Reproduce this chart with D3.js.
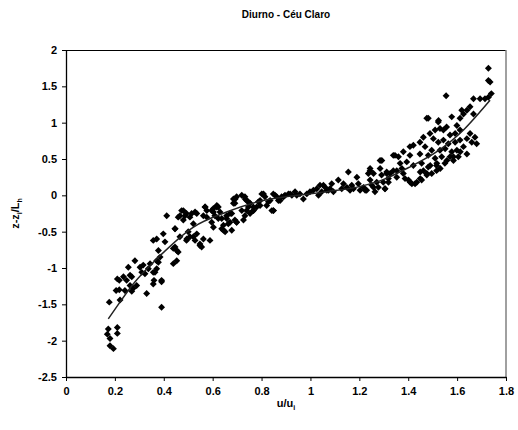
<!DOCTYPE html>
<html>
<head>
<meta charset="utf-8">
<script src="https://cdn.jsdelivr.net/npm/d3@7"></script>
<style>
  body { margin: 0; background: #fff; }
  text { font-family: "Liberation Sans", Arial, sans-serif; font-weight: bold; }
</style>
</head>
<body>
<div id="chart"></div>
<script>
// Data
const chartTitle = "Diurno - Céu Claro";
const xTicks = [0, 0.2, 0.4, 0.6, 0.8, 1, 1.2, 1.4, 1.6, 1.8];
const yTicks = [2, 1.5, 1, 0.5, 0, -0.5, -1, -1.5, -2, -2.5];

// scatter points
const pointsX = [
  0.177, 0.173, 0.169, 0.18, 0.18, 0.194, 0.21, 0.21, 0.221, 0.205, 0.218, 0.21, 0.218, 0.235, 0.241, 0.248,
  0.255, 0.262, 0.269, 0.262, 0.269, 0.282, 0.289, 0.275, 0.303, 0.31, 0.316, 0.323, 0.33, 0.337, 0.344, 0.357,
  0.364, 0.36, 0.371, 0.371, 0.371, 0.378, 0.385, 0.391, 0.391, 0.398, 0.405, 0.412, 0.439, 0.446, 0.453, 0.459,
  0.446, 0.459, 0.466, 0.473, 0.48, 0.487, 0.493, 0.5, 0.507, 0.514, 0.521, 0.528, 0.535, 0.535, 0.548, 0.555,
  0.562, 0.562, 0.576, 0.589, 0.596, 0.603, 0.603, 0.617, 0.623, 0.63, 0.637, 0.644, 0.651, 0.657, 0.664, 0.671,
  0.678, 0.685, 0.691, 0.698, 0.719, 0.726, 0.739, 0.746, 0.753, 0.766, 0.78, 0.794, 0.821, 0.835, 0.848, 0.869,
  0.466, 0.48, 0.493, 0.507, 0.528, 0.569, 0.576, 0.596, 0.617, 0.657, 0.685, 0.691, 0.698, 0.719, 0.733, 0.739,
  0.753, 0.766, 0.787, 0.801, 0.814, 0.842, 0.848, 0.862, 0.876, 0.896, 0.91,
  0.808, 0.855, 0.882, 0.924, 0.937, 0.944, 0.957, 0.971, 0.985, 0.998, 1.012, 1.026, 1.033, 1.039, 1.046, 1.06,
  1.067, 1.08, 1.087, 1.094, 1.114, 1.128, 1.135, 1.149, 1.155, 1.162, 1.176, 1.19, 1.196, 1.203, 1.217, 1.23,
  1.237, 1.244, 1.251, 1.264, 1.278, 1.285, 1.291, 1.305, 1.312, 1.319,
  0.89, 0.917, 1.053, 1.074, 1.169, 1.224, 1.258, 1.326, 1.346, 1.353, 1.367, 1.387, 1.408, 1.428, 1.449, 1.462,
  1.476, 1.49, 1.517, 1.531, 1.558, 1.585, 1.613,
  1.728, 1.728, 1.735, 1.728, 1.74, 1.714, 1.694, 1.667, 1.555, 1.653, 1.64, 1.626, 1.667, 1.612, 1.578, 1.599,
  1.482, 1.523, 1.53, 1.557, 1.51, 1.489, 1.571, 1.592, 1.612, 1.653, 1.673, 1.66, 1.68, 1.64, 1.612, 1.592,
  1.564, 1.544, 1.523, 1.503, 1.462, 1.448, 1.421, 1.407, 1.469, 1.496, 1.53, 1.551, 1.578, 1.599, 1.626, 1.64,
  1.605, 1.571, 1.537, 1.51, 1.482, 1.448, 1.407, 1.38, 1.36, 1.339, 1.292, 1.394, 1.421, 1.455, 1.482, 1.516,
  1.55, 1.585, 1.374, 1.339, 1.312, 1.285, 1.258, 1.244, 1.244, 1.271, 1.305, 1.319, 1.353, 1.38, 1.401, 1.415,
  1.435, 1.455, 1.476, 1.496, 1.516, 1.449, 1.298, 1.476, 1.524, 1.544, 1.619,
  0.357, 0.391, 0.357, 0.378, 0.446, 0.439, 0.453, 0.494, 0.521, 0.548, 0.569, 0.603, 0.623, 0.609, 0.637, 0.644,
  0.671, 0.678, 0.692, 0.698, 0.732, 0.746, 0.732, 0.767, 0.794, 0.828, 0.849
];
const pointsY = [
  -1.47, -1.84, -1.91, -1.97, -2.07, -2.11, -1.82, -1.90, -1.44, -1.31, -1.30, -1.15, -1.17, -1.12, -1.31, -1.17,
  -0.99, -1.10, -1.12, -1.24, -1.32, -0.90, -1.24, -1.28, -0.99, -1.06, -0.96, -1.08, -1.35, -1.01, -0.94, -0.62,
  -1.06, -1.17, -0.60, -0.90, -1.01, -0.76, -0.85, -1.17, -1.54, -0.53, -0.64, -0.28, -0.94, -0.71, -0.90, -0.78,
  -0.46, -0.30, -0.57, -0.21, -0.34, -0.28, -0.62, -0.50, -0.57, -0.25, -0.39, -0.62, -0.25, -0.53, -0.67, -0.71,
  -0.28, -0.60, -0.21, -0.62, -0.37, -0.23, -0.44, -0.16, -0.32, -0.23, -0.46, -0.41, -0.50, -0.32, -0.39, -0.25,
  -0.48, -0.11, -0.34, -0.37, -0.21, -0.34, -0.07, -0.16, -0.25, -0.21, -0.16, -0.07, -0.14, -0.07, -0.21, -0.07,
  -0.28, -0.21, -0.25, -0.30, -0.23, -0.16, -0.30, -0.21, -0.14, -0.28, -0.05, -0.11, -0.02, 0.00, -0.05, -0.21,
  -0.11, -0.16, -0.09, 0.02, -0.02, -0.21, 0.02, -0.02, -0.07, 0.00, 0.02,
  0.02, 0.00, -0.02, 0.00, 0.05, 0.00, 0.02, -0.05, 0.02, 0.05, 0.07, 0.09, 0.00, 0.14, 0.05, 0.11,
  0.07, 0.09, 0.16, 0.05, 0.21, 0.09, 0.16, 0.11, 0.32, 0.07, 0.09, 0.25, 0.16, 0.07, 0.11, 0.07,
  0.30, 0.37, 0.14, 0.05, 0.11, 0.48, 0.28, 0.09, 0.32, 0.18,
  -0.02, 0.02, 0.14, 0.07, 0.14, 0.07, 0.11, 0.30, 0.55, 0.34, 0.44, 0.23, 0.18, 0.16, 0.23, 0.34,
  0.30, 0.41, 0.44, 0.37, 0.48, 0.53, 0.60,
  1.75, 1.58, 1.56, 1.35, 1.40, 1.33, 1.33, 1.33, 1.37, 1.22, 1.17, 1.12, 1.12, 1.06, 1.08, 0.96,
  1.06, 1.01, 0.92, 0.94, 0.90, 0.85, 0.83, 0.85, 0.90, 0.85, 0.80, 0.73, 0.71, 0.78, 0.76, 0.73,
  0.71, 0.76, 0.73, 0.78, 0.80, 0.73, 0.69, 0.67, 0.67, 0.62, 0.62, 0.64, 0.60, 0.62, 0.67, 0.57,
  0.53, 0.53, 0.53, 0.51, 0.55, 0.57, 0.55, 0.60, 0.53, 0.55, 0.48, 0.46, 0.41, 0.44, 0.39, 0.41,
  0.44, 0.48, 0.37, 0.34, 0.30, 0.37, 0.30, 0.34, 0.21, 0.18, 0.09, 0.23, 0.25, 0.30, 0.21, 0.16,
  0.18, 0.21, 0.28, 0.30, 0.34, 0.32, 0.18, 1.06, 1.03, 0.90, 1.17,
  -1.22, -1.19, -1.06, -0.92, -0.46, -0.73, -0.76, -0.60, -0.57, -0.69, -0.16, -0.18, -0.16, -0.28, -0.32, -0.48,
  -0.37, -0.25, -0.05, -0.37, -0.02, -0.09, -0.28, -0.21, -0.14, -0.09, -0.21
];

// trend line
const trendX = [0.173, 0.2, 0.275, 0.385, 0.52, 0.657, 0.794, 0.9, 1.0, 1.067, 1.2, 1.3, 1.4, 1.517, 1.626, 1.694, 1.735];
const trendY = [-1.70, -1.57, -1.22, -0.83, -0.44, -0.23, -0.08, -0.02, 0.02, 0.05, 0.12, 0.22, 0.38, 0.60, 0.90, 1.15, 1.31];

const points = pointsX.map((x, i) => ({ x, y: pointsY[i] }));
const trend = trendX.map((x, i) => ({ x, y: trendY[i] }));

// Dimensions
const width = 518;
const height = 430;
const margin = { top: 50, right: 12, bottom: 53, left: 66 };
const ctrWidth = width - margin.left - margin.right;
const ctrHeight = height - margin.top - margin.bottom;

const svg = d3.select("#chart")
  .append("svg")
  .attr("width", width)
  .attr("height", height);

const ctr = svg.append("g")
  .attr("transform", `translate(${margin.left},${margin.top})`);

// Scales
const xScale = d3.scaleLinear().domain([0, 1.8]).range([0, ctrWidth]);
const yScale = d3.scaleLinear().domain([-2.5, 2]).range([ctrHeight, 0]);

// Frame (top black, right grey)
ctr.append("line")
  .attr("x1", 0).attr("x2", ctrWidth)
  .attr("y1", 0.5).attr("y2", 0.5)
  .attr("stroke", "#000");
ctr.append("line")
  .attr("x1", ctrWidth).attr("x2", ctrWidth)
  .attr("y1", 0).attr("y2", ctrHeight)
  .attr("stroke", "#808080")
  .attr("stroke-width", 1.5);

// Axes
const xAxis = d3.axisBottom(xScale)
  .tickValues(xTicks)
  .tickSize(4)
  .tickSizeOuter(0)
  .tickPadding(6)
  .tickFormat((d) => String(d));

const xAxisGroup = ctr.append("g")
  .attr("transform", `translate(0,${ctrHeight})`)
  .call(xAxis);

const yAxis = d3.axisLeft(yScale)
  .tickValues(yTicks)
  .tickSize(4)
  .tickSizeOuter(0)
  .tickPadding(5)
  .tickFormat((d) => String(d));

const yAxisGroup = ctr.append("g").call(yAxis);

[xAxisGroup, yAxisGroup].forEach((g) => {
  g.select(".domain").attr("stroke", "#000").attr("stroke-width", 1.3);
  g.selectAll(".tick line").attr("stroke", "#000");
  g.selectAll(".tick text")
    .attr("fill", "#000")
    .style("font-size", "11px")
    .style("font-family", "'Liberation Sans', Arial, sans-serif")
    .style("font-weight", "bold");
});

// Points (diamonds)
const diamond = d3.symbol().type(d3.symbolSquare).size(24);
ctr.selectAll("path.dot")
  .data(points)
  .join("path")
  .attr("class", "dot")
  .attr("d", diamond)
  .attr("transform", (d) => `translate(${xScale(d.x)},${yScale(d.y)}) rotate(45)`)
  .attr("fill", "#000");

// Trend line
const line = d3.line()
  .x((d) => xScale(d.x))
  .y((d) => yScale(d.y))
  .curve(d3.curveMonotoneX);

ctr.append("path")
  .datum(trend)
  .attr("d", line)
  .attr("fill", "none")
  .attr("stroke", "#222")
  .attr("stroke-width", 1.5);

// Title
svg.append("text")
  .attr("x", margin.left + ctrWidth / 2)
  .attr("y", 18)
  .attr("text-anchor", "middle")
  .style("font-size", "10px")
  .text(chartTitle);

// X axis label u/u_i
const xLabel = svg.append("text")
  .attr("x", margin.left + ctrWidth / 2)
  .attr("y", 407)
  .attr("text-anchor", "middle")
  .style("font-size", "11px");
xLabel.append("tspan").text("u/u");
xLabel.append("tspan").attr("dy", 3).style("font-size", "7px").text("i");

// Y axis label z-z_i/L_h
const yLabel = svg.append("text")
  .attr("transform", `translate(19,${margin.top + ctrHeight / 2}) rotate(-90)`)
  .attr("text-anchor", "middle")
  .style("font-size", "11px");
yLabel.append("tspan").text("z-z");
yLabel.append("tspan").attr("dy", 3).style("font-size", "7px").text("i");
yLabel.append("tspan").attr("dy", -3).text("/L");
yLabel.append("tspan").attr("dy", 3).style("font-size", "7px").text("h");
</script>
</body>
</html>
